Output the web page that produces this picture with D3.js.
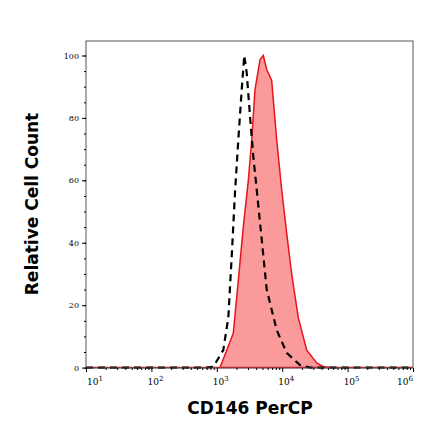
<!DOCTYPE html><html><head><script src="https://cdn.jsdelivr.net/npm/d3@7"></script>
<style>body{margin:0;background:#fff}</style></head><body><svg width="440" height="441"></svg>
<script>
const redX=[10,100,900,1119,1786,2133,2541,3034,3420,3837,4581,5140,5794,6902,8241,9817,11720,13960,17620,23710,33730,42460,60000,1e6];
const redY=[0,0,0,0,11,28,45,60,73,89,98.7,100,95.5,92,73,57,43,30,16,5.6,1.5,0.3,0,0];
const blkX=[10,100,700,885,1256,1500,1690,1897,2133,2404,2630,2864,3221,3614,4074,4864,5794,8241,11720,18710,26600,60000,1e6];
const blkY=[0,0,0,0.3,5.6,16,35.6,56,73,89,100,94.5,80.5,67.7,57,41,25,12,4.7,0.8,0,0,0];
const yTicks=[0,20,40,60,80,100];
const xTicks=[1e1,1e2,1e3,1e4,1e5,1e6];
const svg=d3.select("svg");
const L=86,R=413,T=41,B=368;
const x=d3.scaleLog().domain([10,1e6]).range([L,R]);
const y=d3.scaleLinear().domain([0,100]).range([367.6,55.5]);
const rd=redX.map((v,i)=>[v,redY[i]]), bd=blkX.map((v,i)=>[v,blkY[i]]);
svg.append("path").datum(rd).attr("fill","#fa9a9a").attr("stroke","#e8141c").attr("stroke-width",1.5)
 .attr("d",d3.area().x(d=>x(d[0])).y0(y(0)).y1(d=>y(d[1])));
svg.append("path").datum(bd).attr("fill","none").attr("stroke","#000").attr("stroke-width",2.2).attr("stroke-dasharray","7,5")
 .attr("d",d3.line().x(d=>x(d[0])).y(d=>y(d[1])));
svg.append("rect").attr("x",L).attr("y",T).attr("width",R-L).attr("height",B-T).attr("fill","none").attr("stroke","#555").attr("stroke-width",1);
const ya=svg.append("g").attr("transform",`translate(${L},0)`).call(d3.axisLeft(y).tickValues(yTicks).tickSize(4).tickFormat(d3.format("d")));
svg.append("g").attr("transform",`translate(${L},0)`).call(d3.axisLeft(y).tickValues(d3.range(0,101,5)).tickSize(2).tickFormat(""));
const xa=svg.append("g").attr("transform",`translate(0,${B})`).call(d3.axisBottom(x).tickValues(xTicks).tickSize(4).tickFormat(""));
svg.append("g").attr("transform",`translate(0,${B})`).call(d3.axisBottom(x).tickValues(d3.range(1,6).flatMap(e=>d3.range(2,10).map(k=>k*10**e))).tickSize(2).tickFormat(""));
svg.selectAll(".domain").remove();
ya.selectAll("text").attr("font-family","DejaVu Serif").attr("font-size",8).attr("fill","#000");
xTicks.forEach(t=>{const e=Math.round(Math.log10(t));
 const tx=svg.append("text").attr("x",x(t)+(e==1?9:e==6?-8:4)).attr("y",385).attr("text-anchor","middle").attr("font-family","DejaVu Serif").attr("font-size",9);
 tx.append("tspan").text("10");tx.append("tspan").attr("dy",-4).attr("font-size",7).text(e);});
svg.append("text").attr("x",250).attr("y",414).attr("text-anchor","middle").attr("font-family","DejaVu Sans").attr("font-weight","bold").attr("font-size",17).text("CD146 PerCP");
svg.append("text").attr("transform","translate(38,204) rotate(-90)").attr("text-anchor","middle").attr("font-family","DejaVu Sans").attr("font-weight","bold").attr("font-size",17).text("Relative Cell Count");
</script></body></html>
